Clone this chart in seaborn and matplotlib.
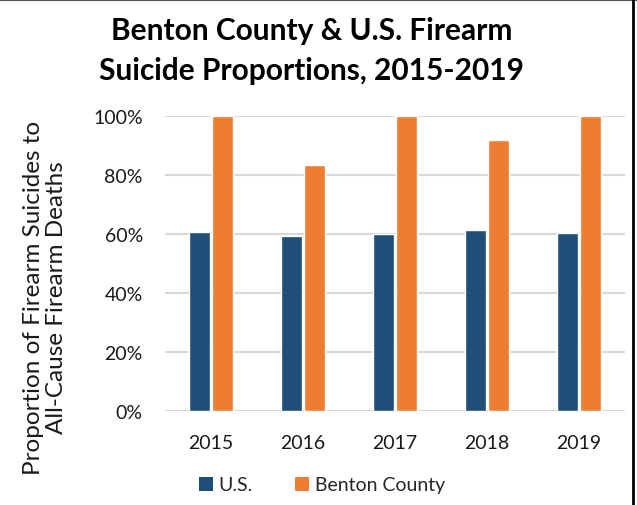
import matplotlib
matplotlib.use("Agg")
import matplotlib.pyplot as plt
import seaborn as sns
import pandas as pd
from matplotlib.lines import Line2D
from matplotlib.patches import Patch

years = ["2015", "2016", "2017", "2018", "2019"]
us_values = [60.6, 59.2, 59.8, 61.3, 60.1]
benton_values = [100.0, 83.3, 100.0, 91.7, 100.0]
series_names = ["U.S.", "Benton County"]
colors = ["#1F4E79", "#ED7D31"]
yticks = [0, 20, 40, 60, 80, 100]

df = pd.DataFrame({
    "Year": years * 2,
    "Value": [v / 100 for v in us_values] + [v / 100 for v in benton_values],
    "Series": [series_names[0]] * len(years) + [series_names[1]] * len(years),
})

sns.set_theme(style="white")
plt.rcParams["font.family"] = ["Lato", "DejaVu Sans"]

fig = plt.figure(figsize=(6.37, 5.06), dpi=100)
ax = fig.add_axes([165 / 637, 1 - 411.7 / 506, 460 / 637, 295 / 506])

sns.barplot(data=df, x="Year", y="Value", hue="Series", palette=colors,
            width=0.51, gap=0.1, ax=ax, legend=False, saturation=1)

ax.set_ylim(0, 1.0)
ax.set_yticks([t / 100 for t in yticks])
ax.set_yticklabels([f"{t}%" for t in yticks], fontsize=14, color="#1a1a1a")
ax.set_xticklabels(years, fontsize=14, color="#1a1a1a")
ax.tick_params(axis="y", length=0, pad=16)
ax.tick_params(axis="x", length=0, pad=17)
ax.grid(axis="y", color="#D9D9D9", linewidth=1.5)
ax.set_axisbelow(True)
for s in ax.spines.values():
    s.set_visible(False)
ax.set_xlabel("")
ax.set_ylabel("")
ax.set_xlim(-0.5, 4.5)

fig.text(0.489, 1 - 31 / 506, "Benton County & U.S. Firearm", ha="center", va="center",
         fontsize=21.5, fontweight="bold", color="black")
fig.text(0.489, 1 - 71 / 506, "Suicide Proportions, 2015-2019", ha="center", va="center",
         fontsize=21.5, fontweight="bold", color="black")

fig.text(45 / 637, 1 - 298 / 506, "Proportion of Firearm Suicides to\nAll-Cause Firearm Deaths",
         rotation=90, ha="center", va="center", fontsize=17.5, color="#1a1a1a",
         linespacing=1.08)

handles = [Patch(facecolor=c, edgecolor="none") for c in colors]
fig.legend(handles, series_names, loc="center", bbox_to_anchor=(322 / 637, 1 - 486 / 506),
           ncol=2, frameon=False, fontsize=14, handlelength=0.7, handleheight=0.7,
           handletextpad=0.3, columnspacing=2.2)

fig.add_artist(Line2D([0, 1], [0.999, 0.999], transform=fig.transFigure, color="#555555", linewidth=1.5))
fig.add_artist(Line2D([632.5 / 637, 632.5 / 637], [0, 1], transform=fig.transFigure, color="black", linewidth=2))

fig.savefig("out.png", dpi=100)
